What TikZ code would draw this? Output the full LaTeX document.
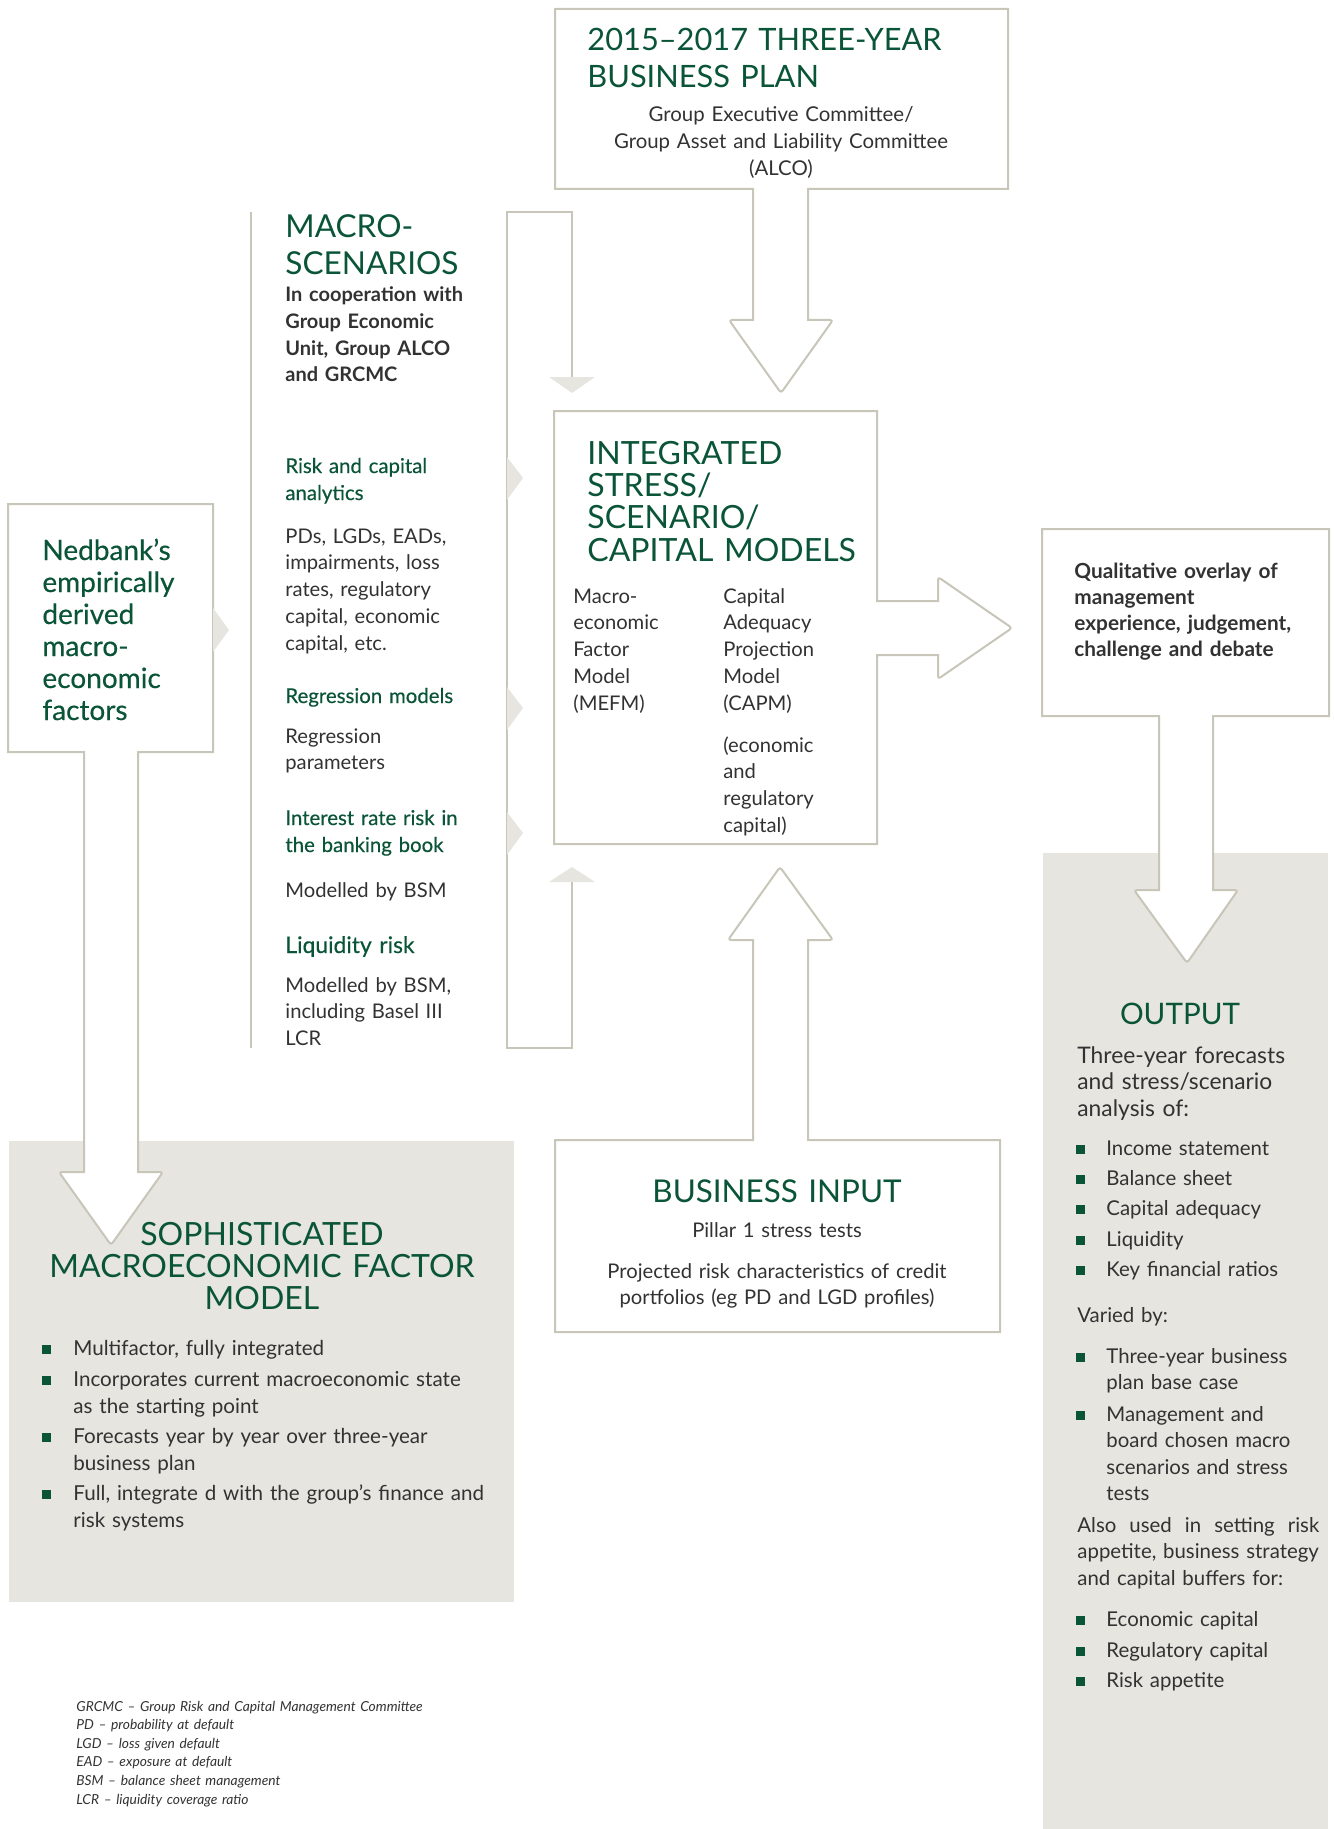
\documentclass[tikz,border=0pt]{standalone}
\usepackage{fontspec}
\setmainfont{Lato}
\newfontfamily\medfont{Lato}[FakeBold=0.35]
\definecolor{lineC}{RGB}{200,197,185}
\definecolor{fillC}{RGB}{230,229,223}
\definecolor{greenC}{RGB}{10,84,56}
\definecolor{textC}{RGB}{50,50,50}
\begin{document}
\begin{tikzpicture}[x=0.5pt,y=-0.5pt,
  ln/.style={draw=lineC,line width=1pt},
  wedge/.style={fill=fillC,draw=none},
  T/.style={inner sep=0pt,anchor=base west,text width=240pt,align=left},
  C/.style={inner sep=0pt,anchor=base,text width=240pt,align=center},
  ttl/.style={text=greenC,font=\fontsize{15.8}{18.5}\selectfont},
  ttlb/.style={text=greenC,font=\fontsize{16}{16.2}\selectfont},
  body/.style={text=textC,font=\fontsize{10.1}{13.4}\selectfont},
  bodyb/.style={text=textC,font=\bfseries\fontsize{10}{13.3}\selectfont},
  sub/.style={text=greenC,font=\medfont\fontsize{10.2}{13.5}\selectfont},
  big/.style={text=textC,font=\fontsize{11.4}{13.4}\selectfont},
  rb/.style={text=textC,font=\fontsize{10.2}{13.3}\selectfont},
  foot/.style={text=textC,font=\itshape\fontsize{6.9}{9.3}\selectfont},
  sq/.style={fill=greenC,draw=none}
]
\useasboundingbox (0,0) rectangle (1333,1829);

% gray panels
\fill[fillC] (9,1141) rectangle (514,1602);
\fill[fillC] (1043,853) rectangle (1328,1829);

% top box with down arrow
\draw[ln,fill=white] (555,9) -- (1008,9) -- (1008,189) -- (808,189) -- (808,320)
  [rounded corners=1.5pt] -- (833,320) -- (781,393) -- (729,320) [sharp corners] -- (753,320)
  -- (753,189) -- (555,189) -- cycle;

% integrated box with right arrow
\draw[ln,fill=white] (554,411) -- (877,411) -- (877,601) -- (938,601)
  [rounded corners=1.5pt] -- (938,577) -- (1012,628) -- (938,679) [sharp corners] -- (938,655)
  -- (877,655) -- (877,844) -- (554,844) -- cycle;

% business input box with up arrow
\draw[ln,fill=white] (555,1140) -- (753,1140) -- (753,940)
  [rounded corners=1.5pt] -- (728,940) -- (780,867) -- (833,940) [sharp corners] -- (808,940)
  -- (808,1140) -- (1000,1140) -- (1000,1332) -- (555,1332) -- cycle;

% qualitative box with down arrow
\draw[ln,fill=white] (1042,529) -- (1329,529) -- (1329,716) -- (1213,716) -- (1213,890)
  [rounded corners=1.5pt] -- (1238,890) -- (1187,963) -- (1134,890) [sharp corners] -- (1159,890)
  -- (1159,716) -- (1042,716) -- cycle;

% Nedbank box with down arrow
\draw[ln,fill=white] (8,504) -- (213,504) -- (213,752) -- (138,752) -- (138,1172)
  [rounded corners=1.5pt] -- (163,1172) -- (111,1245) -- (59,1172) [sharp corners] -- (84,1172)
  -- (84,752) -- (8,752) -- cycle;
\fill[wedge] (213,608) -- (229,630) -- (213,652) -- cycle;

% macro-scenarios column rule
\draw[ln] (251,212) -- (251,1048);
% bracket connector
\coordinate (bTop) at (572,377);
\coordinate (bBot) at (572,882);
\draw[ln] (bTop) -- (572,212) -- (507,212) -- (507,1048) -- (572,1048) -- (bBot);
\fill[wedge] (549,377) -- (595,377) -- (572,393) -- cycle;
\fill[wedge] (549,882) -- (595,882) -- (572,867) -- cycle;
\fill[wedge] (507,457) -- (523,478) -- (507,500) -- cycle;
\fill[wedge] (507,687) -- (523,708) -- (507,730) -- cycle;
\fill[wedge] (507,812) -- (523,833) -- (507,855) -- cycle;

% ---------- texts ----------
\node[T,ttl,font=\fontsize{15.4}{18.5}\selectfont] (tplan) at (587,51) {2015–2017 THREE-YEAR\\BUSINESS PLAN};
\node[C,body,font=\fontsize{10.2}{13.4}\selectfont] (tgrp) at (781,122) {Group Executive Committee/\\Group Asset and Liability Committee\\(ALCO)};

\node[T,ttl] (tmacro) at (285,238) {MACRO-\\SCENARIOS};
\node[T,bodyb] (tcoop) at (285,302) {In cooperation with\\Group Economic\\Unit, Group ALCO\\and GRCMC};
\node[T,sub] (trisk) at (285,473) {Risk and capital\\analytics};
\node[T,body] (tpds) at (285,543) {PDs, LGDs, EADs,\\impairments, loss\\rates, regulatory\\capital, economic\\capital, etc.};
\node[T,sub] (treg) at (285,703) {Regression models};
\node[T,body] (tregp) at (285,743) {Regression\\parameters};
\node[T,sub] (tirr) at (285,825) {Interest rate risk in\\the banking book};
\node[T,body] (tbsm) at (285,897) {Modelled by BSM};
\node[T,text=greenC,font=\medfont\fontsize{11.4}{14}\selectfont] (tliq) at (285,953) {Liquidity risk};
\node[T,body] (tlcr) at (285,992) {Modelled by BSM,\\including Basel III\\LCR};

\node[T,text=greenC,font=\medfont\fontsize{14}{16}\selectfont] (tned) at (42,560) {Nedbank’s\\empirically\\derived\\macro-\\economic\\factors};

\node[T,ttlb] (tint) at (587,464) {INTEGRATED\\STRESS/\\SCENARIO/\\CAPITAL MODELS};
\node[T,body] (tmefm) at (573,603) {Macro-\\economic\\Factor\\Model\\(MEFM)};
\node[T,body] (tcapm) at (723,603) {Capital\\Adequacy\\Projection\\Model\\(CAPM)};
\node[T,body] (tecon) at (723,752) {(economic\\and\\regulatory\\capital)};

\node[T,bodyb,font=\bfseries\fontsize{10.4}{13.1}\selectfont] (tqual) at (1074,578) {Qualitative overlay of\\management\\experience, judgement,\\challenge and debate};

\node[C,text=greenC,font=\fontsize{14.8}{16}\selectfont] (tout) at (1180,1024) {OUTPUT};
\node[T,big] (tthree) at (1077,1063) {Three-year forecasts\\and stress/scenario\\analysis of:};
\foreach \y/\t [count=\i] in {1155/Income statement,1185/Balance sheet,1215/Capital adequacy,1246/Liquidity,1276/Key financial ratios}{
  \node[T,rb] (to\i) at (1106,\y) {\t};
  \fill[sq] (1076,\y-10) rectangle (1085,\y-1);
}
\node[T,rb] (tvar) at (1077,1322) {Varied by:};
\node[T,rb] (tv1) at (1106,1363) {Three-year business\\plan base case};
\fill[sq] (1076,1353) rectangle (1085,1362);
\node[T,rb] (tv2) at (1106,1421) {Management and\\board chosen macro\\scenarios and stress\\tests};
\fill[sq] (1076,1411) rectangle (1085,1420);
\node[T,rb] (talso) at (1077,1532) {\hbox to 121pt{Also\hfill used\hfill in\hfill setting\hfill risk}\\appetite, business strategy\\and capital buffers for:};
\foreach \y/\t [count=\i] in {1626/Economic capital,1657/Regulatory capital,1687/Risk appetite}{
  \node[T,rb] (tu\i) at (1106,\y) {\t};
  \fill[sq] (1076,\y-10) rectangle (1085,\y-1);
}

\node[C,ttlb,text width=260pt] (tsoph) at (262,1245) {SOPHISTICATED\\MACROECONOMIC FACTOR\\MODEL};
\node[T,body,font=\fontsize{10.3}{13.5}\selectfont] (ts1) at (73,1355) {Multifactor, fully integrated};
\node[T,body,font=\fontsize{10.3}{13.5}\selectfont] (ts2) at (73,1386) {Incorporates current macroeconomic state\\as the starting point};
\node[T,body,font=\fontsize{10.3}{13.5}\selectfont] (ts3) at (73,1443) {Forecasts year by year over three-year\\business plan};
\node[T,body,font=\fontsize{10.3}{13.5}\selectfont] (ts4) at (73,1500) {Full, integrate d with the group’s finance and\\risk systems};
\foreach \y in {1355,1386,1443,1500}{\fill[sq] (42,\y-10) rectangle (51,\y-1);}

\node[C,ttlb,font=\fontsize{15.7}{16}\selectfont] (tbus) at (777,1202) {BUSINESS INPUT};
\node[C,body] (tpil) at (777,1237) {Pillar 1 stress tests};
\node[C,body] (tproj) at (777,1278) {Projected risk characteristics of credit\\portfolios (eg PD and LGD profiles)};

\node[T,foot] (tfoot) at (76,1711) {GRCMC – Group Risk and Capital Management Committee\\PD – probability at default\\LGD – loss given default\\EAD – exposure at default\\BSM – balance sheet management\\LCR – liquidity coverage ratio};
\end{tikzpicture}
\end{document}
